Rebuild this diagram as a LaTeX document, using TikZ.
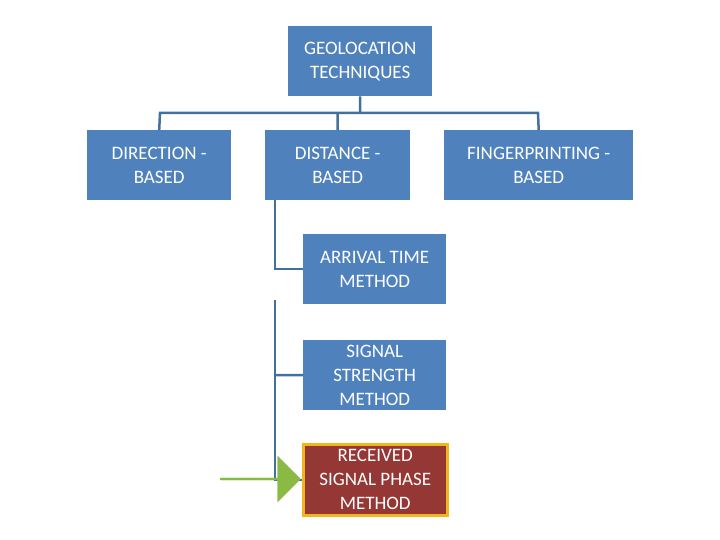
\documentclass[tikz,border=0pt]{standalone}
\usepackage{fontspec}
\setmainfont{Carlito}
\usetikzlibrary{arrows.meta,shapes.arrows}
\definecolor{bx}{HTML}{4F81BD}
\definecolor{ln}{HTML}{41719C}
\definecolor{rd}{HTML}{953735}
\definecolor{gd}{HTML}{F2B51A}
\definecolor{gr}{HTML}{8DB845}
\tikzset{box/.style={fill=bx,text=white,align=center,font=\fontsize{19}{24}\selectfont,inner sep=0pt,anchor=north west},
 con/.style={draw=ln,line width=2.5pt}}
\begin{document}
\begin{tikzpicture}[x=1pt,y=-1pt]
\useasboundingbox (0,0) rectangle (720,540);
\node[box,minimum width=144pt,minimum height=70pt] (g) at (288,26) {GEOLOCATION\\TECHNIQUES};
\node[box,minimum width=144pt,minimum height=70pt] (d) at (87,130) {DIRECTION -\\BASED};
\node[box,minimum width=145pt,minimum height=70pt] (s) at (265,130) {DISTANCE -\\BASED};
\node[box,minimum width=189pt,minimum height=70pt] (f) at (444,130) {FINGERPRINTING -\\BASED};
\node[box,minimum width=143pt,minimum height=70pt] (a) at (303,234) {ARRIVAL TIME\\METHOD};
\node[box,minimum width=143pt,minimum height=70pt] (b) at (303,340) {SIGNAL\\STRENGTH\\METHOD};
\node[box,fill=rd,draw=gd,line width=2.5pt,minimum width=144pt,minimum height=71pt] (c) at (302,443) {RECEIVED\\SIGNAL PHASE\\METHOD};
\draw[con] (g.south) -- (360,113);
\draw[con] (d.north) -- (160,113) -- (538,113) -- (f.north);
\draw[con] (s.north) -- (337.5,113);
\draw[con] (275,200) |- (a.west);
\draw[con] (275,375) -- (b.west);
\draw[con] (275,300) |- (c.west);
\node[single arrow,fill=gr,minimum height=80pt,minimum width=46pt,single arrow head extend=4pt,inner sep=0pt,shading=axis,left color=gr!90!green,right color=gr,draw=none] (ar) at (260,479) {};
\end{tikzpicture}
\end{document}
